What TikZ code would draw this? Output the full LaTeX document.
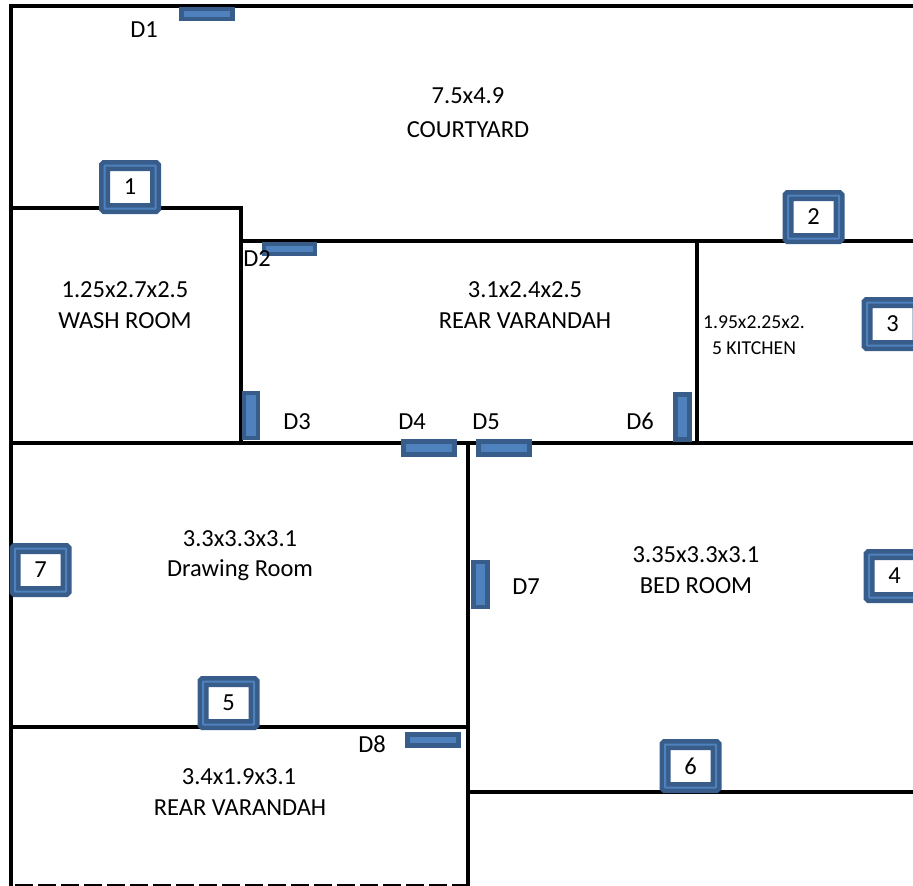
\documentclass[tikz,border=0pt]{standalone}
\usepackage{fontspec}
\setmainfont{Carlito}
\definecolor{darkblue}{HTML}{385D8A}
\definecolor{midblue}{HTML}{4F81BD}
\tikzset{
  wall/.style={line width=4.4pt,black,line cap=rect},
  winbox/.style={draw=darkblue,fill=white,line width=11pt,rounded corners=0.5pt,minimum width=51pt,minimum height=43pt,inner sep=0pt,font=\fontsize{24.5}{26}\selectfont,text=black,
    postaction={draw=midblue,line width=2pt}},
  hdoor/.style={draw=darkblue,fill=midblue,line width=4.5pt,minimum width=51pt,minimum height=10pt,inner sep=0pt},
  vdoor/.style={draw=darkblue,fill=midblue,line width=4.5pt,minimum width=14pt,minimum height=45pt,inner sep=0pt},
  lab/.style={font=\fontsize{24.5}{26}\selectfont,text=black,inner sep=0pt,yshift=-0.8pt},
  smalllab/.style={font=\fontsize{19.7}{21}\selectfont,text=black,inner sep=0pt}
}
\begin{document}
\begin{tikzpicture}[x=1pt,y=-1pt]
\useasboundingbox (0,0) rectangle (913,886);
\clip (0,0) rectangle (913,886);
% walls
\draw[wall] (11,886) -- (11,6) -- (913,6);
\draw[wall] (11,208) -- (241,208) -- (241,443);
\draw[wall] (241,241) -- (913,241);
\draw[wall] (697,241) -- (697,443);
\draw[wall] (11,443) -- (913,443);
\draw[wall] (468,443) -- (468,886);
\draw[wall] (11,727) -- (468,727);
\draw[wall] (468,792) -- (913,792);
\draw[line width=1.5pt,black,dash pattern=on 18pt off 5pt] (15,885.2) -- (468,885.2);
% doors
\node[hdoor] (d1) at (207,14) {};
\node[hdoor] (d2) at (289.5,249) {};
\node[vdoor] (d3) at (251,415.5) {};
\node[hdoor,minimum height=13pt] (d4) at (429,448) {};
\node[hdoor,minimum height=13pt] (d5) at (504,448) {};
\node[vdoor] (d6) at (682.5,417) {};
\node[vdoor] (d7) at (480.5,584.5) {};
\node[hdoor,minimum height=11pt] (d8) at (433,740) {};
% windows
\node[winbox] (w1) at (130,187) {1};
\node[winbox] (w2) at (813.5,217) {2};
\node[winbox] (w3) at (892.5,324) {3};
\node[winbox] (w4) at (894.5,576) {4};
\node[winbox] (w5) at (228.5,703) {5};
\node[winbox] (w6) at (690.5,766) {6};
\node[winbox] (w7) at (40.5,570) {7};
% door labels
\node[lab] (l1) at (144,29) {D1};
\node[lab] (l2) at (257,258) {D2};
\node[lab] (l3) at (297,421) {D3};
\node[lab] (l4) at (412,421) {D4};
\node[lab] (l5) at (486,421) {D5};
\node[lab] (l6) at (640,421) {D6};
\node[lab] (l7) at (526,586) {D7};
\node[lab] (l8) at (372,743) {D8};
% room labels
\node[lab] (r1a) at (468,95) {7.5x4.9};
\node[lab] (r1b) at (468,129) {COURTYARD};
\node[lab] (r2a) at (125,289) {1.25x2.7x2.5};
\node[lab] (r2b) at (125,320) {WASH ROOM};
\node[lab] (r3a) at (525,289) {3.1x2.4x2.5};
\node[lab] (r3b) at (525,320) {REAR VARANDAH};
\node[smalllab] (r4a) at (754,322) {1.95x2.25x2.};
\node[smalllab] (r4b) at (754,348) {5 KITCHEN};
\node[lab] (r5a) at (240,538) {3.3x3.3x3.1};
\node[lab] (r5b) at (240,569) {Drawing Room};
\node[lab] (r6a) at (696,554) {3.35x3.3x3.1};
\node[lab] (r6b) at (696,585) {BED ROOM};
\node[lab] (r7a) at (239,776) {3.4x1.9x3.1};
\node[lab] (r7b) at (240,807) {REAR VARANDAH};
\end{tikzpicture}
\end{document}
